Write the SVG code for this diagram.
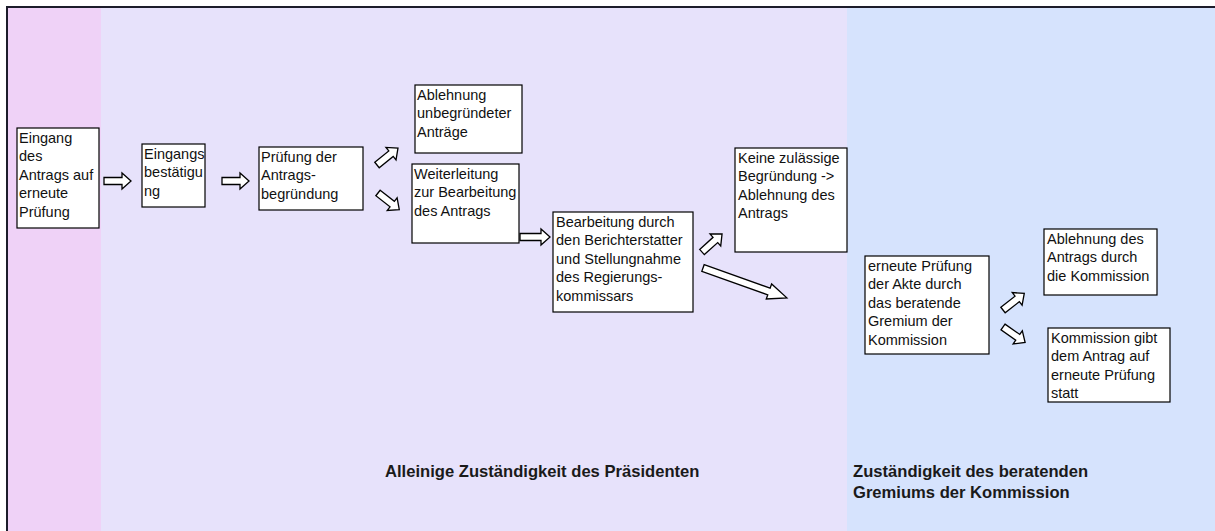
<svg xmlns="http://www.w3.org/2000/svg" width="1215" height="531" viewBox="0 0 1215 531">
<style>
.box{fill:#fff;stroke:#000;stroke-width:1.2}
.t{font-family:"Liberation Sans",Arial,sans-serif;font-size:14.5px;fill:#111}
.lbl{font-family:"Liberation Sans",Arial,sans-serif;font-size:16.6px;font-weight:bold;fill:#1a1a1a}
.arr{fill:#fff;stroke:#000;stroke-width:1.3;stroke-linejoin:miter}
</style>
<defs>
<path id="a26" d="M0,-3.5 H18 V-8 L27,0 L18,8 V3.5 H0 Z"/>
<path id="a30" d="M0,-3.5 H21 V-8 L30,0 L21,8 V3.5 H0 Z"/>
<path id="a89" d="M0,-3.5 H70 V-8 L89,0 L70,8 V3.5 H0 Z"/>
</defs>
<rect x="0" y="0" width="1215" height="531" fill="#fff"/>
<rect x="7" y="7" width="94" height="524" fill="#efd2f7"/>
<rect x="101" y="7" width="746" height="524" fill="#e7e2fb"/>
<rect x="847" y="7" width="368" height="524" fill="#d6e3fd"/>
<path d="M7,531 V7 H1215" fill="none" stroke="#1c1c2a" stroke-width="2"/>

<g id="connectors">
<use href="#a26" class="arr" transform="translate(104,181)"/>
<use href="#a26" class="arr" transform="translate(222,181)"/>
<use href="#a26" class="arr" transform="translate(377,165) rotate(-39)"/>
<use href="#a26" class="arr" transform="translate(378,193) rotate(38)"/>
<use href="#a30" class="arr" transform="translate(520,237)"/>
<use href="#a26" class="arr" transform="translate(702,252) rotate(-42)"/>
<use href="#a89" class="arr" transform="translate(703,268) rotate(19.6)"/>
<use href="#a26" class="arr" transform="translate(1003,310) rotate(-38)"/>
<use href="#a26" class="arr" transform="translate(1003,327) rotate(35)"/>
</g>

<g id="n1">
<rect class="box" x="17" y="128" width="82" height="100"/>
<text class="t" x="19" y="142.5">Eingang<tspan x="19" dy="18.5">des</tspan><tspan x="19" dy="18.5">Antrags auf</tspan><tspan x="19" dy="18.5">erneute</tspan><tspan x="19" dy="18.5">Prüfung</tspan></text>
</g>
<g id="n2">
<rect class="box" x="142" y="144" width="63" height="63"/>
<text class="t" x="144" y="158.5">Eingangs<tspan x="144" dy="18.5">bestätigu</tspan><tspan x="144" dy="18.5">ng</tspan></text>
</g>
<g id="n3">
<rect class="box" x="259" y="147" width="104" height="63"/>
<text class="t" x="261" y="161.5">Prüfung der<tspan x="261" dy="18.5">Antrags-</tspan><tspan x="261" dy="18.5">begründung</tspan></text>
</g>
<g id="n4">
<rect class="box" x="415" y="85" width="107" height="68"/>
<text class="t" x="417" y="99.5">Ablehnung<tspan x="417" dy="18.5">unbegründeter</tspan><tspan x="417" dy="18.5">Anträge</tspan></text>
</g>
<g id="n5">
<rect class="box" x="412" y="164" width="107" height="79"/>
<text class="t" x="414" y="178.5">Weiterleitung<tspan x="414" dy="18.5">zur Bearbeitung</tspan><tspan x="414" dy="18.5">des Antrags</tspan></text>
</g>
<g id="n6">
<rect class="box" x="553" y="212" width="140" height="100"/>
<text class="t" x="556" y="226.5">Bearbeitung durch<tspan x="556" dy="18.5">den Berichterstatter</tspan><tspan x="556" dy="18.5">und Stellungnahme</tspan><tspan x="556" dy="18.5">des Regierungs-</tspan><tspan x="556" dy="18.5">kommissars</tspan></text>
</g>
<g id="n7">
<rect class="box" x="735" y="148" width="112" height="104"/>
<text class="t" x="738" y="162.5">Keine zulässige<tspan x="738" dy="18.5">Begründung -&gt;</tspan><tspan x="738" dy="18.5">Ablehnung des</tspan><tspan x="738" dy="18.5">Antrags</tspan></text>
</g>
<g id="n8">
<rect class="box" x="865" y="256" width="124" height="98"/>
<text class="t" x="868" y="270.5">erneute Prüfung<tspan x="868" dy="18.5">der Akte durch</tspan><tspan x="868" dy="18.5">das beratende</tspan><tspan x="868" dy="18.5">Gremium der</tspan><tspan x="868" dy="18.5">Kommission</tspan></text>
</g>
<g id="n9">
<rect class="box" x="1044" y="229" width="113" height="66"/>
<text class="t" x="1047" y="243.5">Ablehnung des<tspan x="1047" dy="18.5">Antrags durch</tspan><tspan x="1047" dy="18.5">die Kommission</tspan></text>
</g>
<g id="n10">
<rect class="box" x="1048" y="328" width="122" height="74"/>
<text class="t" x="1051" y="342.5">Kommission gibt<tspan x="1051" dy="18.5">dem Antrag auf</tspan><tspan x="1051" dy="18.5">erneute Prüfung</tspan><tspan x="1051" dy="18.5">statt</tspan></text>
</g>

<g id="lane-labels">
<text class="lbl" x="385" y="477">Alleinige Zuständigkeit des Präsidenten</text>
<text class="lbl" x="853" y="477">Zuständigkeit des beratenden<tspan x="853" dy="21">Gremiums der Kommission</tspan></text>
</g>
</svg>
